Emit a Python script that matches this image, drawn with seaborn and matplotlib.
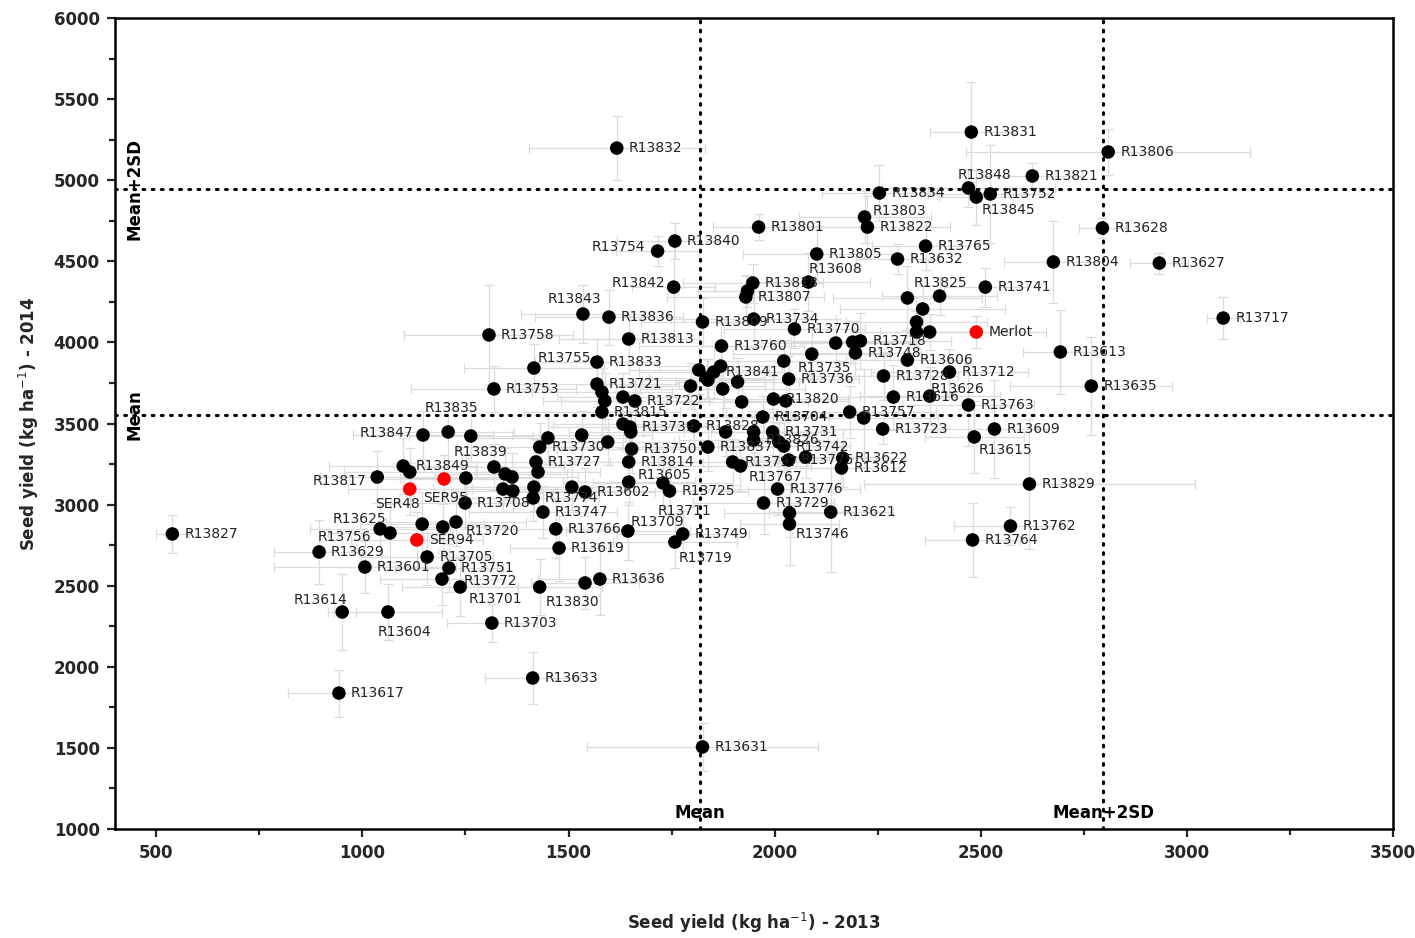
import matplotlib
matplotlib.use("Agg")
import matplotlib.pyplot as plt
from matplotlib.ticker import MultipleLocator
import seaborn as sns
import pandas as pd

# lines, seed yield 2013 (x) vs 2014 (y), with SD error bars
names = ["R13831", "R13806", "R13832", "R13821", "R13848", "R13845", "R13752", "R13834", "R13803", "R13822",
         "R13801", "R13840", "R13754", "R13765", "R13805", "R13632", "R13628", "R13804", "R13627", "R13608",
         "R13818", "", "R13807", "R13825", "", "", "", "", "", "Merlot",
         "R13741", "R13717", "R13613", "R13635", "R13843", "R13836", "R13758", "R13813", "R13842", "R13809",
         "R13734", "R13770", "R13760", "", "", "R13718", "R13748", "", "R13735", "R13736",
         "R13606", "R13728", "R13712", "R13616", "R13626", "R13763", "R13757", "", "R13704", "R13820",
         "", "R13723", "R13609", "R13615", "R13829", "R13762", "R13764", "R13731", "", "R13826",
         "", "", "R13742", "R13775", "R13622", "R13612", "R13797", "R13767", "R13776", "R13729",
         "", "R13746", "R13621", "R13837", "R13828", "", "", "", "", "",
         "", "", "", "R13841", "", "R13721", "", "", "R13815", "",
         "R13722", "", "R13739", "", "R13750", "", "", "", "R13730", "R13727",
         "", "", "R13774", "R13747", "", "R13602", "R13605", "R13814", "R13711", "R13725",
         "R13709", "R13749", "R13719", "R13766", "R13619", "R13636", "", "R13830", "R13701", "R13772",
         "R13751", "R13705", "R13720", "", "R13708", "", "", "", "", "",
         "", "R13835", "R13839", "R13847", "R13849", "", "R13817", "SER48", "SER95", "",
         "SER94", "R13625", "R13756", "R13629", "R13601", "R13614", "R13604", "R13617", "R13827", "R13703",
         "R13633", "R13631", "R13753", "R13755", "R13833"]

yield_2013 = [2477, 2809, 1617, 2625, 2470, 2489, 2523, 2254, 2218, 2225,
              1961, 1758, 1716, 2366, 2102, 2298, 2795, 2676, 2933, 2082,
              1947, 1934, 1930, 2400, 2322, 2359, 2344, 2344, 2376, 2489,
              2511, 3088, 2693, 2768, 1535, 1598, 1307, 1646, 1755, 1825,
              1949, 2048, 1871, 2148, 2189, 2208, 2196, 2090, 2022, 2034,
              2322, 2264, 2424, 2288, 2376, 2470, 2182, 2216, 1971, 1997,
              2027, 2262, 2533, 2484, 2618, 2572, 2480, 1995, 1949, 1949,
              2010, 2022, 2075, 2034, 2165, 2162, 1898, 1917, 2007, 1973,
              2036, 2036, 2136, 1838, 1804, 1881, 1796, 1838, 1874, 1920,
              1910, 1816, 1835, 1852, 1869, 1569, 1581, 1588, 1581, 1632,
              1661, 1632, 1649, 1651, 1653, 1595, 1532, 1450, 1430, 1421,
              1426, 1416, 1414, 1438, 1508, 1540, 1646, 1646, 1729, 1745,
              1644, 1777, 1758, 1469, 1477, 1576, 1540, 1430, 1237, 1193,
              1210, 1157, 1227, 1195, 1249, 1251, 1319, 1346, 1363, 1341,
              1365, 1208, 1263, 1147, 1099, 1115, 1036, 1115, 1198, 1145,
              1132, 1043, 1067, 895, 1006, 951, 1062, 943, 539, 1314,
              1413, 1825, 1319, 1416, 1569]

yield_2014 = [5297, 5174, 5198, 5026, 4952, 4896, 4915, 4921, 4773, 4711,
              4711, 4625, 4563, 4594, 4545, 4514, 4705, 4496, 4489, 4372,
              4366, 4317, 4280, 4286, 4274, 4206, 4126, 4064, 4064, 4064,
              4341, 4150, 3941, 3731, 4175, 4156, 4046, 4021, 4341, 4126,
              4144, 4083, 3978, 3996, 4002, 4009, 3935, 3928, 3885, 3774,
              3891, 3793, 3817, 3663, 3669, 3614, 3571, 3534, 3540, 3651,
              3639, 3466, 3466, 3417, 3127, 2868, 2782, 3448, 3448, 3398,
              3386, 3361, 3293, 3275, 3287, 3226, 3263, 3238, 3096, 3010,
              2948, 2880, 2954, 3355, 3485, 3448, 3731, 3768, 3713, 3633,
              3756, 3830, 3780, 3817, 3854, 3743, 3694, 3639, 3571, 3663,
              3639, 3497, 3478, 3448, 3343, 3386, 3429, 3411, 3355, 3263,
              3201, 3108, 3041, 2954, 3108, 3078, 3139, 3263, 3133, 3084,
              2837, 2819, 2769, 2850, 2732, 2541, 2517, 2492, 2492, 2541,
              2609, 2677, 2893, 2862, 3010, 3164, 3232, 3189, 3170, 3096,
              3084, 3448, 3423, 3429, 3238, 3201, 3170, 3096, 3158, 2880,
              2782, 2850, 2825, 2708, 2615, 2338, 2338, 1838, 2819, 2270,
              1931, 1506, 3713, 3842, 3879]

sd_2013 = [100, 345, 213, 120, 210, 90, 150, 140, 160, 200,
           110, 140, 100, 130, 180, 100, 58, 120, 70, 150,
           170, 120, 190, 140, 180, 200, 170, 150, 120, 170,
           100, 40, 90, 196, 150, 180, 205, 170, 100, 150,
           200, 170, 200, 180, 150, 220, 160, 190, 150, 170,
           140, 180, 190, 150, 170, 160, 210, 180, 160, 180,
           150, 150, 140, 120, 402, 137, 115, 150, 170, 180,
           140, 160, 170, 150, 150, 140, 180, 170, 200, 170,
           160, 120, 150, 190, 170, 200, 180, 160, 200, 160,
           150, 170, 140, 180, 150, 200, 170, 150, 190, 160,
           180, 170, 200, 150, 180, 160, 170, 190, 200, 180,
           150, 170, 160, 180, 150, 170, 160, 180, 170, 190,
           150, 160, 150, 170, 120, 150, 130, 150, 140, 150,
           130, 160, 170, 150, 180, 160, 170, 150, 160, 170,
           150, 160, 150, 170, 180, 160, 140, 150, 170, 150,
           160, 170, 150, 110, 220, 34, 130, 124, 40, 110,
           116, 279, 200, 170, 150]

sd_2014 = [310, 140, 197, 80, 120, 170, 300, 170, 160, 190,
           80, 110, 90, 150, 170, 90, 60, 250, 65, 180,
           120, 100, 130, 120, 200, 150, 160, 130, 110, 100,
           120, 130, 260, 300, 180, 170, 308, 140, 300, 150,
           170, 120, 150, 150, 130, 170, 140, 160, 130, 140,
           120, 150, 140, 200, 180, 250, 160, 300, 130, 140,
           120, 90, 300, 220, 400, 120, 228, 140, 130, 150,
           120, 150, 130, 120, 180, 130, 140, 160, 160, 190,
           150, 250, 370, 150, 140, 150, 140, 130, 160, 140,
           150, 150, 120, 160, 130, 140, 150, 170, 160, 150,
           140, 150, 160, 130, 150, 140, 150, 160, 150, 140,
           130, 150, 140, 160, 140, 150, 140, 150, 160, 150,
           180, 140, 160, 180, 200, 220, 160, 170, 180, 160,
           150, 170, 150, 140, 160, 150, 140, 160, 150, 140,
           130, 180, 160, 150, 170, 150, 160, 160, 150, 200,
           170, 160, 180, 200, 160, 234, 170, 145, 117, 117,
           163, 150, 140, 150, 140]

controls = ["Merlot", "SER48", "SER95", "SER94"]

mean_2013, mean2sd_2013 = 1818, 2797
mean_2014, mean2sd_2014 = 3552, 4946

df = pd.DataFrame({"name": names, "y2013": yield_2013, "y2014": yield_2014,
                   "sd2013": sd_2013, "sd2014": sd_2014})
df["group"] = ["control" if n in controls else "line" for n in df["name"]]

# label placement tweaks (pixels: dx, dy downwards, alignment); default is right of the dot
label_pos = {
    "R13754": (-12, -4, "right"), "R13842": (-8, -4, "right"), "R13843": (-9, -15, "center"),
    "R13755": (4, -10, "left"), "R13608": (0, -13, "left"), "R13803": (8, -6, "left"),
    "R13848": (-11, -13, "left"), "R13845": (5, 13, "left"), "R13825": (-26, -13, "left"),
    "R13735": (14, 7, "left"), "R13626": (1, -7, "left"), "R13615": (4, 13, "left"),
    "R13742": (-10, -10, "left"), "R13767": (8, 11, "left"), "R13746": (6, 10, "left"),
    "R13605": (9, -7, "left"), "R13711": (-5, 28, "left"), "R13709": (3, -9, "left"),
    "R13719": (4, 16, "left"), "R13830": (6, 15, "left"), "R13701": (9, 12, "left"),
    "R13772": (22, 2, "left"), "R13720": (10, 9, "left"), "R13839": (-17, 16, "left"),
    "R13835": (-24, -24, "left"), "R13847": (-10, -2, "right"), "R13817": (-11, 4, "right"),
    "SER48": (-12, 15, "center"), "SER95": (1, 19, "center"), "R13625": (-21, -10, "center"),
    "R13756": (-19, 4, "right"), "R13614": (-22, -12, "center"), "R13604": (16, 20, "center"),
}

sns.set_theme(style="ticks")
plt.rcParams["font.family"] = ["DejaVu Sans"]
PX = 0.72  # points per pixel at dpi 100

fig, ax = plt.subplots(figsize=(14.15, 9.38), dpi=100)
fig.subplots_adjust(left=0.0813, right=0.9845, top=0.9808, bottom=0.1162)

ax.errorbar(df["y2013"], df["y2014"], xerr=df["sd2013"], yerr=df["sd2014"], fmt="none",
            ecolor="#dcdcdc", elinewidth=0.9, capsize=3.5, capthick=0.9, zorder=1)

for v in (mean_2013, mean2sd_2013):
    ax.axvline(v, color="black", lw=2.2, linestyle=(0, (0.6, 2.4)), dash_capstyle="round", zorder=2)
for v in (mean_2014, mean2sd_2014):
    ax.axhline(v, color="black", lw=2.2, linestyle=(0, (0.6, 2.4)), dash_capstyle="round", zorder=2)

sns.scatterplot(data=df, x="y2013", y="y2014", hue="group",
                palette={"line": "black", "control": "#ff0000"}, hue_order=["line", "control"],
                s=95, edgecolor="none", linewidth=0, legend=False, ax=ax, zorder=3)

for _, r in df.iterrows():
    if not r["name"]:
        continue
    dx, dy, ha = label_pos.get(r["name"], (12, 0, "left"))
    ax.annotate(r["name"], (r["y2013"], r["y2014"]), xytext=(dx * PX, -dy * PX),
                textcoords="offset points", ha=ha, va="center", fontsize=10,
                color="#222222", zorder=4)

bold = dict(fontsize=12, fontweight="bold", color="black")
ax.text(447, mean2sd_2014, "Mean+2SD", rotation=90, ha="center", va="center", **bold)
ax.text(447, mean_2014, "Mean", rotation=90, ha="center", va="center", **bold)
ax.text(mean_2013, 1099, "Mean", ha="center", va="center", **bold)
ax.text(mean2sd_2013, 1099, "Mean+2SD", ha="center", va="center", **bold)

ax.set_xlim(400, 3500)
ax.set_ylim(1000, 6000)
ax.set_xticks(range(500, 3501, 500))
ax.set_yticks(range(1000, 6001, 500))
ax.xaxis.set_minor_locator(MultipleLocator(250))
ax.yaxis.set_minor_locator(MultipleLocator(250))
ax.tick_params(which="major", direction="out", length=6, width=1.6, labelsize=12, pad=5)
ax.tick_params(which="minor", direction="out", length=4, width=1.6)
for lbl in ax.get_xticklabels() + ax.get_yticklabels():
    lbl.set_fontweight("bold")
for sp in ax.spines.values():
    sp.set_visible(True)
    sp.set_linewidth(1.8)
    sp.set_color("black")

ax.set_xlabel("Seed yield (kg ha$^{-1}$) - 2013", fontsize=12, fontweight="bold")
ax.set_ylabel("Seed yield (kg ha$^{-1}$) - 2014", fontsize=12, fontweight="bold")
ax.xaxis.set_label_coords(0.5, -0.101)
ax.yaxis.set_label_coords(-0.058, 0.5)

fig.savefig("out.png", dpi=100)
